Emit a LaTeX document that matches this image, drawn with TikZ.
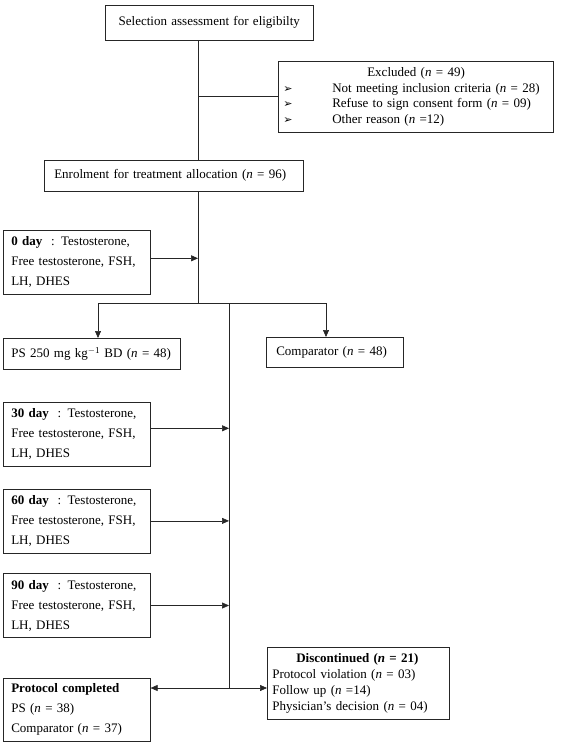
\documentclass[tikz,border=0pt]{standalone}
\usepackage{fontspec}
\setmainfont{Liberation Serif}
\newfontfamily\symfont{DejaVu Sans}
\usetikzlibrary{positioning, calc, arrows.meta}

\newcommand{\bul}{\makebox[49pt][l]{\symfont\fontsize{11}{12}\selectfont ➢}}

\begin{document}
\begin{tikzpicture}[x=1pt, y=-1pt,
        box/.style={rectangle, draw=black!85, line width=0.6pt, inner xsep=8pt, inner ysep=0pt, align=left, font=\fontsize{13}{20}\selectfont},
        daybox/.style={box, text width=131pt, minimum height=64pt},
        arrow/.style={-{Triangle[length=7pt, width=6pt]}, line width=0.6pt, draw=black!85},
        link/.style={line width=0.6pt, draw=black!85}
    ]
        \useasboundingbox (0,0) rectangle (564,746);
        \node[box, anchor=north west, align=center, text width=192pt, minimum height=35pt] at (105,5) (select) {Selection assessment for eligibilty};
        \node[box, anchor=north west, inner xsep=5pt, text width=265pt, minimum height=71pt, font=\fontsize{13}{15.5}\selectfont] at (278,61) (excluded) {\hspace*{84pt}Excluded (\textit{n} = 49)\\\bul Not meeting inclusion criteria (\textit{n} = 28)\\\bul Refuse to sign consent form (\textit{n} = 09)\\\bul Other reason (\textit{n} =12)};
        \node[box, anchor=north west, inner xsep=10pt, text width=239pt, minimum height=31pt] at (44,160) (enrol) {Enrolment for treatment allocation (\textit{n} = 96)};
        \node[daybox, anchor=north west] at (3,230) (day0) {\textbf{0 day}~~: Testosterone,\\Free testosterone, FSH,\\LH, DHES};
        \node[box, anchor=north west, text width=161pt, minimum height=31pt] at (3,338) (ps) {PS 250 mg kg\textsuperscript{$-$1} BD (\textit{n} = 48)};
        \node[box, anchor=north west, inner xsep=10pt, text width=117pt, minimum height=30pt] at (266,337) (comparator) {Comparator (\textit{n} = 48)};
        \node[daybox, anchor=north west] at (3,402) (day30) {\textbf{30 day}~~: Testosterone,\\Free testosterone, FSH,\\LH, DHES};
        \node[daybox, below=22pt of day30] (day60) {\textbf{60 day}~~: Testosterone,\\Free testosterone, FSH,\\LH, DHES};
        \node[daybox, below=20pt of day60] (day90) {\textbf{90 day}~~: Testosterone,\\Free testosterone, FSH,\\LH, DHES};
        \node[box, anchor=north west, text width=131pt, minimum height=63pt] at (3,678) (completed) {\textbf{Protocol completed}\\PS (\textit{n} = 38)\\Comparator (\textit{n} = 37)};
        \node[box, anchor=north west, inner xsep=5pt, text width=172pt, minimum height=72pt, font=\fontsize{13}{16}\selectfont] at (267,647) (discont) {\hspace*{24pt}\textbf{Discontinued (\textit{n} = 21)}\\Protocol violation (\textit{n} = 03)\\Follow up (\textit{n} =14)\\Physician's decision (\textit{n} = 04)};

        % trunk and branch points
        \coordinate (trunk) at (198,303);
        \coordinate (psdrop) at (98,303);
        \coordinate (compdrop) at (326,303);
        \coordinate (merge) at (229,688);

        \draw[link] (select.south -| trunk) -- (enrol.north -| trunk);
        \draw[link] (excluded.west -| trunk) -- (excluded.west);
        \draw[link] (enrol.south -| trunk) -- (trunk);
        \draw[arrow] ([yshift=4pt]day0.east) -- ([yshift=4pt]day0.east -| trunk);
        \draw[link] (psdrop) -- (compdrop);
        \draw[arrow] (psdrop) -- (ps.north -| psdrop);
        \draw[arrow] (compdrop) -- (comparator.north -| compdrop);
        \draw[link] (trunk -| merge) -- (merge);
        \draw[arrow] ([yshift=6pt]day30.east) -- ([yshift=6pt]day30.east -| merge);
        \draw[arrow] (day60.east) -- (day60.east -| merge);
        \draw[arrow] (day90.east) -- (day90.east -| merge);
        \draw[arrow] (merge) -- (merge -| completed.east);
        \draw[arrow] (merge) -- (merge -| discont.west);
    \end{tikzpicture}
\end{document}
